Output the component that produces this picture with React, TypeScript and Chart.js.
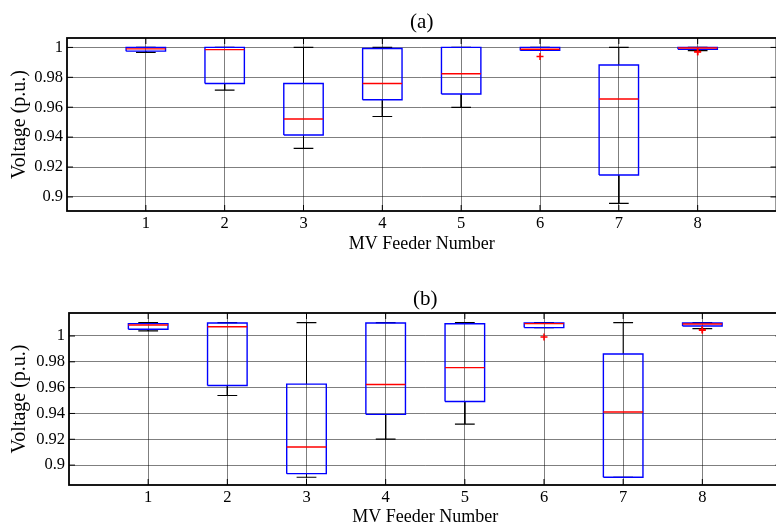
import React, { useEffect, useRef } from "react";
import { Chart, registerables } from "chart.js";

Chart.register(...registerables);

// ---------------- data ----------------
const feeders = [1, 2, 3, 4, 5, 6, 7, 8];
const yTickValues = [0.9, 0.92, 0.94, 0.96, 0.98, 1];
const yTickLabels = ["0.9", "0.92", "0.94", "0.96", "0.98", "1"];

// panel (a)
const aMin = [0.9967, 0.9715, 0.9325, 0.9538, 0.9599, 0.998, 0.8957, 0.9978];
const aQ1 = [0.9975, 0.9759, 0.9414, 0.965, 0.9688, 0.998, 0.9147, 0.9987];
const aMed = [0.999, 0.9985, 0.9521, 0.9759, 0.9824, 0.9988, 0.9655, 0.9996];
const aQ3 = [1.0, 1.0, 0.9759, 0.9993, 1.0, 1.0, 0.9882, 1.0];
const aMax = [1.0, 1.0, 1.0, 1.0, 1.0, 1.0, 1.0, 1.0];
const aOutlierFeeder = [6, 8, 8];
const aOutlierValue = [0.994, 0.9973, 0.9969];

// panel (b)
const bMin = [1.0039, 0.9539, 0.8906, 0.9202, 0.9318, 1.0065, 0.8906, 1.0057];
const bQ1 = [1.0052, 0.9617, 0.8934, 0.9393, 0.9493, 1.0065, 0.8906, 1.0077];
const bMed = [1.0085, 1.0072, 0.914, 0.9624, 0.9755, 1.0096, 0.9411, 1.0093];
const bQ3 = [1.0096, 1.01, 0.9627, 1.01, 1.0095, 1.01, 0.9861, 1.01];
const bMax = [1.0103, 1.0103, 1.0103, 1.0103, 1.0103, 1.0103, 1.0103, 1.0103];
const bOutlierFeeder = [6, 8, 8];
const bOutlierValue = [0.9992, 1.005, 1.0045];

// ---------------- styles ----------------
const FONT = "'Liberation Serif', 'Times New Roman', serif";
const GRID = "rgba(0,0,0,0.5)";
const BOX_HALF = 0.25;
const CAP_HALF = 0.125;

type Panel = {
  title: string;
  min: number[];
  q1: number[];
  med: number[];
  q3: number[];
  max: number[];
  outX: number[];
  outY: number[];
  yMin: number;
  yMax: number;
  top: number;
  width: number;
  height: number;
  yAxisW: number;
  topH: number;
  xAxisH: number;
  titlePad: number;
  xTitlePad: number;
};

const panels: Panel[] = [
  {
    title: "(a)",
    min: aMin, q1: aQ1, med: aMed, q3: aQ3, max: aMax,
    outX: aOutlierFeeder, outY: aOutlierValue,
    yMin: 0.8906, yMax: 1.0063,
    top: 0, width: 782, height: 256, yAxisW: 67, topH: 38, xAxisH: 45,
    titlePad: 10, xTitlePad: 1,
  },
  {
    title: "(b)",
    min: bMin, q1: bQ1, med: bMed, q3: bQ3, max: bMax,
    outX: bOutlierFeeder, outY: bOutlierValue,
    yMin: 0.8846, yMax: 1.0178,
    top: 270, width: 787, height: 258, yAxisW: 69, topH: 43, xAxisH: 43,
    titlePad: 17, xTitlePad: 0,
  },
];

function buildDatasets(p: Panel) {
  const gap = (x: number) => ({ x, y: null as any });
  const whisk: any[] = [];
  const caps: any[] = [];
  const boxes: any[] = [];
  const meds: any[] = [];
  feeders.forEach((f, i) => {
    whisk.push({ x: f, y: p.q3[i] }, { x: f, y: p.max[i] }, gap(f),
      { x: f, y: p.q1[i] }, { x: f, y: p.min[i] }, gap(f));
    caps.push({ x: f - CAP_HALF, y: p.max[i] }, { x: f + CAP_HALF, y: p.max[i] }, gap(f),
      { x: f - CAP_HALF, y: p.min[i] }, { x: f + CAP_HALF, y: p.min[i] }, gap(f));
    boxes.push({ x: f - BOX_HALF, y: p.q1[i] }, { x: f + BOX_HALF, y: p.q1[i] },
      { x: f + BOX_HALF, y: p.q3[i] }, { x: f - BOX_HALF, y: p.q3[i] },
      { x: f - BOX_HALF, y: p.q1[i] }, gap(f));
    meds.push({ x: f - BOX_HALF, y: p.med[i] }, { x: f + BOX_HALF, y: p.med[i] }, gap(f));
  });
  const outliers = p.outX.map((x, i) => ({ x, y: p.outY[i] }));
  const line = (data: any[], color: string, width: number, order: number) => ({
    data, borderColor: color, borderWidth: width, pointRadius: 0,
    showLine: true, spanGaps: false, fill: false, tension: 0, order,
  });
  return [
    line(whisk, "#000000", 1, 5),
    line(caps, "#000000", 1.2, 4),
    line(boxes, "#0000ff", 1.4, 3),
    line(meds, "#ff0000", 1.4, 2),
    {
      data: outliers, showLine: false, pointStyle: "cross", pointRadius: 3.5,
      borderColor: "#ff0000", backgroundColor: "#ff0000", pointBorderWidth: 1.5, order: 1,
    },
  ];
}

const framePlugin = {
  id: "frame",
  afterDatasetsDraw(chart: any) {
    const { ctx, chartArea } = chart;
    const { left, right, top, bottom } = chartArea;
    const xs = chart.scales.x;
    const ys = chart.scales.y;
    ctx.save();
    ctx.strokeStyle = "#000";
    ctx.lineWidth = 1;
    ctx.beginPath();
    feeders.forEach((f) => {
      const px = xs.getPixelForValue(f);
      ctx.moveTo(px, bottom); ctx.lineTo(px, bottom - 6);
      ctx.moveTo(px, top); ctx.lineTo(px, top + 6);
    });
    yTickValues.forEach((v) => {
      const py = ys.getPixelForValue(v);
      ctx.moveTo(left, py); ctx.lineTo(left + 6, py);
      ctx.moveTo(right, py); ctx.lineTo(right - 6, py);
    });
    ctx.stroke();
    ctx.lineWidth = 1.8;
    ctx.strokeRect(left, top, right - left, bottom - top);
    ctx.restore();
  },
};

function BoxPanel({ p }: { p: Panel }) {
  const ref = useRef<HTMLCanvasElement | null>(null);
  useEffect(() => {
    if (!ref.current) return;
    const chart = new Chart(ref.current, {
      type: "line",
      data: { datasets: buildDatasets(p) as any },
      options: {
        responsive: false,
        animation: false,
        devicePixelRatio: 1,
        layout: { padding: 0 },
        plugins: { legend: { display: false }, tooltip: { enabled: false } },
        scales: {
          x: {
            type: "linear", position: "bottom", min: 0, max: 9,
            afterBuildTicks: (s: any) => { s.ticks = feeders.map((v) => ({ value: v })); },
            afterFit: (s: any) => { s.height = p.xAxisH; },
            ticks: {
              callback: (v: any) => String(v), color: "#000", padding: 3,
              maxRotation: 0, autoSkip: false, font: { family: FONT, size: 16.5 },
            },
            grid: { color: GRID, lineWidth: 1, drawTicks: false },
            border: { display: false },
            title: {
              display: true, text: "MV Feeder Number", color: "#000",
              font: { family: FONT, size: 18 }, padding: { top: 0, bottom: p.xTitlePad },
            },
          },
          x2: {
            type: "linear", position: "top", min: 0, max: 9,
            afterFit: (s: any) => { s.height = p.topH; },
            ticks: { display: false },
            grid: { display: false, drawTicks: false },
            border: { display: false },
            title: {
              display: true, text: p.title, color: "#000",
              font: { family: FONT, size: 21 }, padding: { top: p.titlePad, bottom: 0 },
            },
          },
          y: {
            type: "linear", min: p.yMin, max: p.yMax,
            afterBuildTicks: (s: any) => { s.ticks = yTickValues.map((v) => ({ value: v })); },
            afterFit: (s: any) => { s.width = p.yAxisW; },
            ticks: {
              callback: (_v: any, i: number) => yTickLabels[i], color: "#000", padding: 4,
              font: { family: FONT, size: 16.5 },
            },
            grid: { color: GRID, lineWidth: 1, drawTicks: false },
            border: { display: false },
            title: {
              display: true, text: "Voltage (p.u.)", color: "#000",
              font: { family: FONT, size: 20 }, padding: { top: 8, bottom: 0 },
            },
          },
        },
      } as any,
      plugins: [framePlugin],
    });
    return () => chart.destroy();
  }, [p]);
  return (
    <canvas
      ref={ref}
      width={p.width}
      height={p.height}
      style={{ position: "absolute", left: 0, top: p.top, width: p.width, height: p.height }}
    />
  );
}

export default function App() {
  return (
    <div
      style={{
        position: "absolute", left: 0, top: 0, width: 776, height: 528,
        overflow: "hidden", background: "#fff",
      }}
    >
      {panels.map((p) => (
        <BoxPanel key={p.title} p={p} />
      ))}
    </div>
  );
}
